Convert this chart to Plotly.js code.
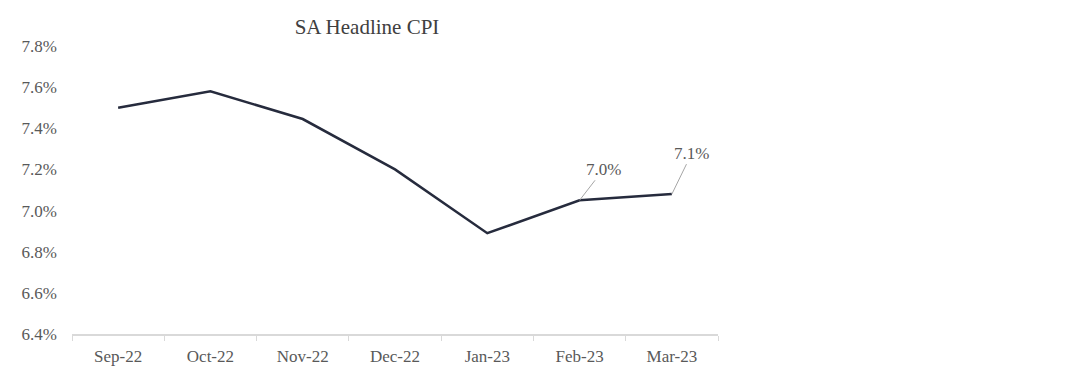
<!DOCTYPE html>
<html>
<head>
<meta charset="utf-8">
<script src="https://cdn.plot.ly/plotly-3.0.1.min.js"></script>
<style>html,body{margin:0;padding:0;background:#fff;}#chart{width:1088px;height:380px;}</style>
</head>
<body>
<div id="chart"></div>
<script>
const months = ['Sep-22','Oct-22','Nov-22','Dec-22','Jan-23','Feb-23','Mar-23'];
const cpi = [7.50, 7.58, 7.445, 7.20, 6.89, 7.05, 7.08];
const labelMonths = ['Feb-23','Mar-23'];
const labelTexts = ['7.0%','7.1%'];
const yTicks = [6.4, 6.6, 6.8, 7.0, 7.2, 7.4, 7.6, 7.8];

const serif = 'Liberation Serif, Times New Roman, serif';
const trace = {
  x: months, y: cpi, type: 'scatter', mode: 'lines',
  line: {color: '#262b3d', width: 2.5}, hoverinfo: 'skip'
};
const offsets = [[24,-31],[20,-41]];
const annotations = labelMonths.map((m,i)=>({
  x: m, y: cpi[months.indexOf(m)], xref:'x', yref:'y',
  text: labelTexts[i], showarrow: true, arrowhead: 0, arrowwidth: 1,
  arrowcolor: '#a6a6a6', ax: offsets[i][0], ay: offsets[i][1],
  font: {family: serif, size: 17, color: '#595959'},
  standoff: 0
}));

const layout = {
  width: 1088, height: 380,
  margin: {l: 72, r: 370, t: 46, b: 46},
  paper_bgcolor: '#fff', plot_bgcolor: '#fff',
  showlegend: false,
  title: {text: 'SA Headline CPI', x: 367/1088, xanchor: 'center', y: 1-27/380, yanchor: 'middle',
    font: {family: serif, size: 21, color: '#404040'}},
  xaxis: {
    type: 'category', range: [-0.5, 6.5], showgrid: false, zeroline: false,
    showline: true, linecolor: '#d9d9d9', linewidth: 1.5,
    ticks: 'outside', tickson: 'boundaries', ticklen: 5, tickcolor: '#d9d9d9',
    ticklabelstandoff: 6,
    tickfont: {family: serif, size: 17, color: '#595959'}
  },
  yaxis: {
    range: [6.4, 7.8], tickvals: yTicks, ticktext: yTicks.map(v=>v.toFixed(1)+'%'),
    showgrid: false, zeroline: false, showline: false, ticks: '',
    ticklabelstandoff: 14,
    tickfont: {family: serif, size: 17, color: '#595959'}
  },
  annotations: annotations
};
Plotly.newPlot('chart', [trace], layout, {staticPlot: true, displayModeBar: false});
</script>
</body>
</html>
